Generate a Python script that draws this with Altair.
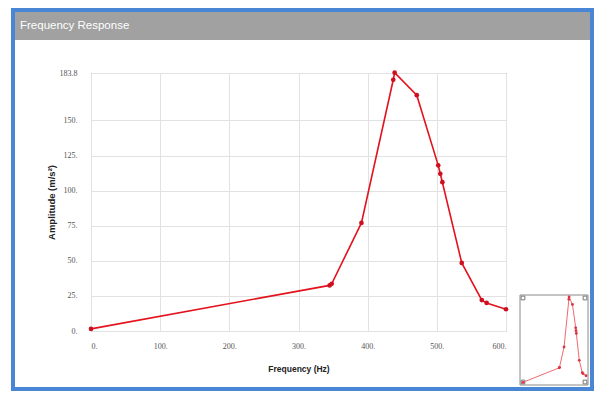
import altair as alt
import pandas as pd

# Data
freq = [0, 345, 348, 391, 437, 439, 471, 502, 505, 508, 536, 565, 572, 600]
amp = [1.5, 32.5, 33.6, 77, 179, 184, 168, 118, 112, 106, 48.5, 22, 20, 15.5]
y_ticks = [0, 25, 50, 75, 100, 125, 150, 183.8]
x_ticks = [0, 100, 200, 300, 400, 500, 600]
title_text = "Frequency Response"
x_title = "Frequency (Hz)"
y_title = "Amplitude (m/s²)"

df = pd.DataFrame({"f": freq, "a": amp})
one = pd.DataFrame({"k": [0]})

RED = "#e3121c"

# Main plot
x_main = alt.X("f:Q", scale=alt.Scale(domain=[0, 600], nice=False, zero=False),
               axis=alt.Axis(values=x_ticks, title=x_title, ticks=False, labelPadding=11,
                             labelExpr="datum.value + '.'", titlePadding=14,
                             labelFont="Liberation Serif", labelFontSize=8, labelColor="#555",
                             titleFont="Liberation Sans", titleFontSize=8.5, titleFontWeight="bold",
                             titleColor="#222", grid=True, gridColor="#e2e2e2", domain=False))
y_main = alt.Y("a:Q", scale=alt.Scale(domain=[0, 183.8], nice=False),
               axis=alt.Axis(values=y_ticks, title=y_title, ticks=False, labelPadding=14,
                             labelExpr="datum.value == 183.8 ? '183.8' : datum.value + '.'",
                             titlePadding=3,
                             labelFont="Liberation Serif", labelFontSize=8, labelColor="#555",
                             titleFont="Liberation Sans", titleFontSize=9.5, titleFontWeight="bold",
                             titleColor="#222", grid=True, gridColor="#e2e2e2", domain=False))

base = alt.Chart(df)
main_line = base.mark_line(color=RED, strokeWidth=1.6).encode(x=x_main, y=y_main, order="f:Q")
main_pts = base.mark_circle(color="#cc1020", size=22, opacity=1).encode(x=x_main, y=y_main)
main = alt.layer(main_line, main_pts)

# Inset thumbnail
x_in = alt.X("f:Q", scale=alt.Scale(domain=[0, 600], range=[432, 495], nice=False), axis=None)
y_in = alt.Y("a:Q", scale=alt.Scale(domain=[0, 184], range=[310, 224], nice=False), axis=None)
inset_line = base.mark_line(color="#ee6a70", strokeWidth=1).encode(x=x_in, y=y_in, order="f:Q")
inset_pts = base.mark_circle(color="#dd3340", size=8, opacity=1).encode(x=x_in, y=y_in)
inset = alt.layer(inset_line, inset_pts)

dec = alt.Chart(one)
frame = dec.mark_rect(fill="transparent", stroke="#4a86d6", strokeWidth=4).encode(
    x=alt.value(-78), x2=alt.value(501), y=alt.value(-63), y2=alt.value(316))
header = dec.mark_rect(fill="#a1a1a1").encode(
    x=alt.value(-76), x2=alt.value(499), y=alt.value(-61), y2=alt.value(-33))
header_txt = dec.mark_text(text=title_text, color="white", font="Liberation Sans", fontSize=11.5,
                           align="left", baseline="middle").encode(
    x=alt.value(-71), y=alt.value(-47))
inset_frame = dec.mark_rect(fill="white", stroke="#8a8a8a", strokeWidth=1).encode(
    x=alt.value(429), x2=alt.value(497), y=alt.value(222), y2=alt.value(312))
handles = [
    dec.mark_square(size=14, fill="white", stroke="#777", strokeWidth=1, opacity=1).encode(
        x=alt.value(hx), y=alt.value(hy))
    for hx, hy in [(432, 225), (494, 225), (432, 309), (494, 309)]
]

chart = alt.layer(frame, header, header_txt, inset_frame, *handles, main, inset).resolve_scale(
    x="independent", y="independent"
).properties(
    width=415, height=258,
    autosize=alt.AutoSizeParams(type="none"),
    padding={"left": 83, "top": 65, "right": 88, "bottom": 60},
    background="white",
).configure_view(stroke="#9a9a9a", strokeWidth=1)

chart.save("out.html", embed_options={"renderer": "svg", "actions": False})
